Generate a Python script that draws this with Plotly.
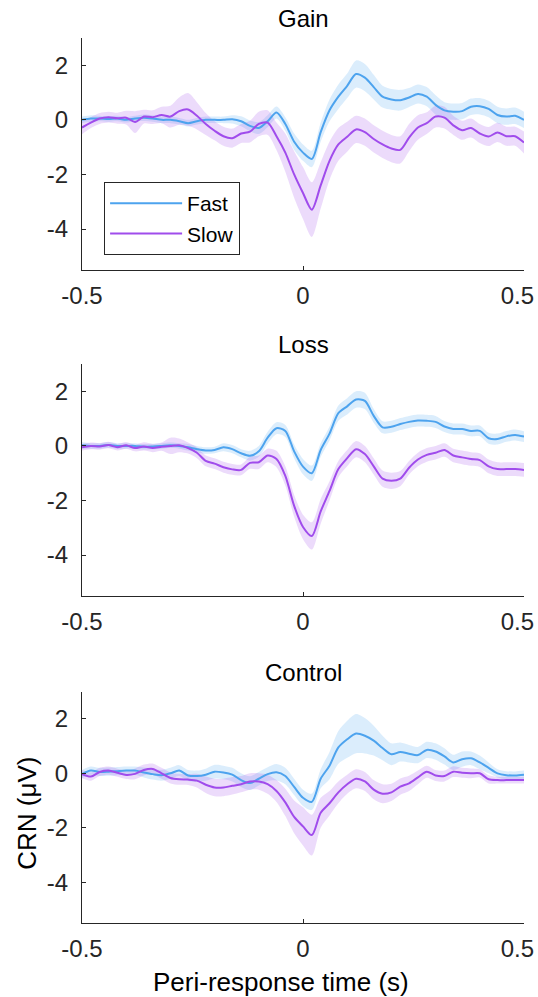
import plotly.graph_objects as go

# ---- data -------------------------------------------------------------
time_s = [round(-0.5 + 0.02 * i, 2) for i in range(51)]

gain_fast = [0.0, 0.05, 0.05, 0.03, 0.05, 0.0, 0.05, 0.08, 0.05, 0.0,
             0.0, -0.05, -0.12, -0.05, 0.0, 0.0, 0.0, 0.02, -0.05, -0.22,
             -0.3, -0.05, 0.27, -0.15, -0.8, -1.2, -1.43, -0.45, 0.35, 0.85,
             1.25, 1.68, 1.55, 1.2, 0.85, 0.75, 0.72, 0.82, 0.95, 0.85,
             0.55, 0.35, 0.3, 0.32, 0.48, 0.5, 0.4, 0.18, 0.12, 0.15, 0.0]
gain_fast_err = [0.12, 0.12, 0.1, 0.1, 0.1, 0.1, 0.1, 0.12, 0.12, 0.12,
                 0.12, 0.12, 0.12, 0.12, 0.12, 0.12, 0.12, 0.15, 0.18, 0.2,
                 0.22, 0.22, 0.22, 0.25, 0.3, 0.3, 0.3, 0.35, 0.4, 0.45,
                 0.45, 0.5, 0.5, 0.45, 0.4, 0.38, 0.38, 0.35, 0.35, 0.35,
                 0.35, 0.3, 0.3, 0.3, 0.3, 0.3, 0.3, 0.3, 0.3, 0.3, 0.3]
gain_slow = [-0.28, -0.1, 0.05, 0.1, 0.06, 0.08, -0.08, 0.12, 0.1, 0.18,
             0.12, 0.32, 0.38, 0.15, -0.15, -0.4, -0.6, -0.67, -0.5, -0.43,
             -0.15, -0.1, -0.6, -1.2, -2.0, -2.68, -3.29, -2.4, -1.5, -0.9,
             -0.62, -0.35, -0.45, -0.7, -0.9, -1.05, -1.1, -0.65, -0.28, -0.12,
             0.12, 0.08, -0.2, -0.38, -0.3, -0.5, -0.61, -0.46, -0.6, -0.6, -0.83]
gain_slow_err = [0.25, 0.2, 0.2, 0.2, 0.2, 0.25, 0.4, 0.25, 0.25, 0.3,
                 0.4, 0.5, 0.6, 0.5, 0.4, 0.35, 0.35, 0.35, 0.35, 0.4,
                 0.45, 0.45, 0.5, 0.7, 0.85, 0.95, 1.0, 0.85, 0.7, 0.6,
                 0.55, 0.5, 0.5, 0.5, 0.5, 0.5, 0.5, 0.5, 0.45, 0.4,
                 0.4, 0.4, 0.35, 0.35, 0.35, 0.35, 0.35, 0.35, 0.35, 0.35, 0.4]

loss_fast = [0.02, 0.0, 0.0, 0.03, 0.0, 0.0, 0.0, -0.03, -0.02, 0.0,
             0.02, 0.0, -0.05, -0.12, -0.17, -0.15, -0.05, -0.12, -0.27, -0.36,
             -0.2, 0.3, 0.65, 0.55, -0.2, -0.76, -1.0, -0.15, 0.45, 1.2,
             1.45, 1.7, 1.65, 1.1, 0.68, 0.7, 0.8, 0.88, 0.93, 0.92,
             0.88, 0.71, 0.62, 0.62, 0.55, 0.55, 0.28, 0.25, 0.35, 0.4, 0.34]
loss_fast_err = [0.12, 0.1, 0.1, 0.1, 0.1, 0.1, 0.1, 0.1, 0.1, 0.1,
                 0.1, 0.1, 0.12, 0.12, 0.12, 0.12, 0.15, 0.15, 0.15, 0.18,
                 0.2, 0.22, 0.22, 0.22, 0.25, 0.28, 0.28, 0.25, 0.25, 0.28,
                 0.3, 0.3, 0.3, 0.25, 0.22, 0.22, 0.22, 0.22, 0.22, 0.22,
                 0.22, 0.2, 0.2, 0.2, 0.2, 0.2, 0.2, 0.2, 0.2, 0.2, 0.2]
loss_slow = [-0.05, 0.0, -0.02, 0.03, -0.05, 0.02, -0.08, -0.02, -0.08, -0.03,
             0.0, 0.02, -0.08, -0.25, -0.55, -0.65, -0.78, -0.86, -0.88, -0.62,
             -0.6, -0.35, -0.48, -1.1, -2.2, -2.97, -3.3, -2.4, -1.65, -0.85,
             -0.45, -0.12, -0.3, -0.75, -1.2, -1.28, -1.2, -0.8, -0.5, -0.33,
             -0.25, -0.15, -0.35, -0.42, -0.48, -0.52, -0.75, -0.85, -0.85, -0.85, -0.88]
loss_slow_err = [0.12, 0.12, 0.12, 0.12, 0.12, 0.12, 0.12, 0.15, 0.15, 0.15,
                 0.3, 0.25, 0.2, 0.2, 0.2, 0.2, 0.2, 0.2, 0.2, 0.22,
                 0.25, 0.25, 0.3, 0.35, 0.4, 0.45, 0.5, 0.45, 0.35, 0.3,
                 0.3, 0.3, 0.3, 0.3, 0.3, 0.3, 0.28, 0.25, 0.25, 0.25,
                 0.25, 0.25, 0.25, 0.25, 0.25, 0.25, 0.25, 0.25, 0.25, 0.25, 0.25]

control_fast = [-0.03, 0.1, 0.05, 0.06, 0.08, 0.1, 0.1, 0.03, -0.03, -0.07,
                0.0, 0.1, -0.08, -0.1, -0.05, 0.06, 0.03, -0.05, -0.25, -0.36,
                -0.2, -0.03, 0.04, -0.1, -0.5, -0.9, -1.05, -0.2, 0.28, 0.95,
                1.25, 1.46, 1.38, 1.2, 0.93, 0.7, 0.78, 0.72, 0.67, 0.86,
                0.8, 0.62, 0.4, 0.52, 0.55, 0.4, 0.2, 0.0, -0.07, -0.08, -0.05]
control_fast_err = [0.15, 0.15, 0.15, 0.15, 0.15, 0.15, 0.15, 0.18, 0.2, 0.2,
                    0.2, 0.2, 0.2, 0.2, 0.22, 0.25, 0.25, 0.25, 0.25, 0.25,
                    0.25, 0.25, 0.3, 0.3, 0.3, 0.3, 0.3, 0.35, 0.5, 0.6,
                    0.68, 0.72, 0.65, 0.55, 0.45, 0.4, 0.35, 0.32, 0.3, 0.3,
                    0.3, 0.3, 0.28, 0.28, 0.25, 0.25, 0.2, 0.15, 0.15, 0.15, 0.15]
control_slow = [-0.03, -0.12, 0.05, 0.1, 0.02, -0.06, -0.02, 0.12, 0.16, 0.0,
                -0.17, -0.22, -0.23, -0.27, -0.42, -0.52, -0.52, -0.46, -0.4, -0.3,
                -0.3, -0.4, -0.65, -1.07, -1.6, -1.95, -2.27, -1.45, -1.1, -0.7,
                -0.4, -0.2, -0.3, -0.6, -0.75, -0.7, -0.49, -0.37, -0.15, 0.06,
                -0.08, -0.1, 0.06, 0.02, 0.0, 0.0, -0.22, -0.25, -0.25, -0.25, -0.25]
control_slow_err = [0.15, 0.15, 0.15, 0.15, 0.15, 0.15, 0.2, 0.2, 0.2, 0.2,
                    0.2, 0.2, 0.2, 0.25, 0.3, 0.32, 0.32, 0.32, 0.3, 0.3,
                    0.3, 0.35, 0.4, 0.5, 0.6, 0.7, 0.75, 0.55, 0.45, 0.4,
                    0.35, 0.35, 0.35, 0.35, 0.35, 0.32, 0.3, 0.28, 0.25, 0.22,
                    0.2, 0.2, 0.2, 0.18, 0.18, 0.15, 0.15, 0.12, 0.12, 0.12, 0.12]

panel_titles = ["Gain", "Loss", "Control"]
series_names = ["Fast", "Slow"]
x_tickvals = [-0.5, 0, 0.5]
x_ticktext = ["-0.5", "0", "0.5\u00a0\u00a0"]
y_tickvals = [-4, -2, 0, 2]
y_ticktext = ["-4", "-2", "0", "2"]

# ---- styling ----------------------------------------------------------
FONT = "Liberation Sans, Arial, sans-serif"
AX = "#262626"
line_colors = ["rgb(77,163,238)", "rgb(160,76,236)"]
band_colors = ["rgba(77,163,238,0.2)", "rgba(160,76,236,0.2)"]

panels = [
    (gain_fast, gain_fast_err, gain_slow, gain_slow_err),
    (loss_fast, loss_fast_err, loss_slow, loss_slow_err),
    (control_fast, control_fast_err, control_slow, control_slow_err),
]
domains = [[0.7379, 1.0], [0.3695, 0.6316], [0.0, 0.2614]]

fig = go.Figure()

for p, (fm, fe, sm, se) in enumerate(panels):
    xa = "x" if p == 0 else f"x{p + 1}"
    ya = "y" if p == 0 else f"y{p + 1}"
    # bands
    for k, (m, e) in enumerate([(fm, fe), (sm, se)]):
        upper = [a + b for a, b in zip(m, e)]
        lower = [a - b for a, b in zip(m, e)]
        fig.add_trace(go.Scatter(x=time_s, y=upper, xaxis=xa, yaxis=ya, mode="lines",
                                 line=dict(width=0, shape="spline", smoothing=0.8),
                                 hoverinfo="skip", showlegend=False))
        fig.add_trace(go.Scatter(x=time_s, y=lower, xaxis=xa, yaxis=ya, mode="lines",
                                 line=dict(width=0, shape="spline", smoothing=0.8),
                                 fill="tonexty", fillcolor=band_colors[k],
                                 hoverinfo="skip", showlegend=False))
    # mean lines
    for k, m in enumerate([fm, sm]):
        fig.add_trace(go.Scatter(x=time_s, y=m, xaxis=xa, yaxis=ya, mode="lines",
                                 name=series_names[k],
                                 line=dict(color=line_colors[k], width=2,
                                           shape="spline", smoothing=0.8),
                                 showlegend=(p == 0)))

axis_common = dict(showline=True, linecolor=AX, linewidth=1, ticks="inside",
                   ticklen=4, tickcolor=AX, showgrid=False, zeroline=False,
                   automargin=False, ticklabeloverflow="allow",
                   tickfont=dict(family=FONT, size=24, color=AX))

layout = dict(
    width=538, height=997,
    margin=dict(l=82, r=14, t=38, b=74, autoexpand=False),
    paper_bgcolor="white", plot_bgcolor="white",
    font=dict(family=FONT, color=AX),
    legend=dict(x=0.05, y=0.8373, xanchor="left", yanchor="top",
                bgcolor="white", bordercolor=AX, borderwidth=1,
                font=dict(family=FONT, size=21, color="black"),
                itemwidth=72, tracegroupgap=0, traceorder="normal"),
    annotations=[],
)

for p in range(3):
    sx = "" if p == 0 else str(p + 1)
    layout[f"xaxis{sx}"] = dict(axis_common, domain=[0, 1], range=[-0.5, 0.5],
                                tickvals=x_tickvals, ticktext=x_ticktext,
                                anchor=f"y{sx}", ticklabelstandoff=4)
    layout[f"yaxis{sx}"] = dict(axis_common, domain=domains[p], range=[-5.5, 3],
                                tickvals=y_tickvals, ticktext=y_ticktext,
                                anchor=f"x{sx}", ticklabelstandoff=8)
    layout["annotations"].append(dict(
        text=panel_titles[p], xref="paper", yref="paper", x=0.5, y=domains[p][1],
        xanchor="center", yanchor="middle", yshift=19.5, showarrow=False,
        font=dict(family=FONT, size=24, color="black")))

layout["annotations"].append(dict(
    text="Peri-response time (s)", xref="paper", yref="paper", x=0.45, y=0,
    xanchor="center", yanchor="middle", yshift=-59, showarrow=False,
    font=dict(family=FONT, size=26, color="black")))
layout["annotations"].append(dict(
    text="CRN (μV)", xref="paper", yref="paper", x=-0.125, y=0.1243,
    xanchor="center", yanchor="middle", textangle=-90, showarrow=False,
    font=dict(family=FONT, size=26, color="black")))

fig.update_layout(**layout)
fig.write_html("out.html", config={"displayModeBar": False},
               post_script="document.body.style.margin='0';document.body.style.overflow='hidden';")
